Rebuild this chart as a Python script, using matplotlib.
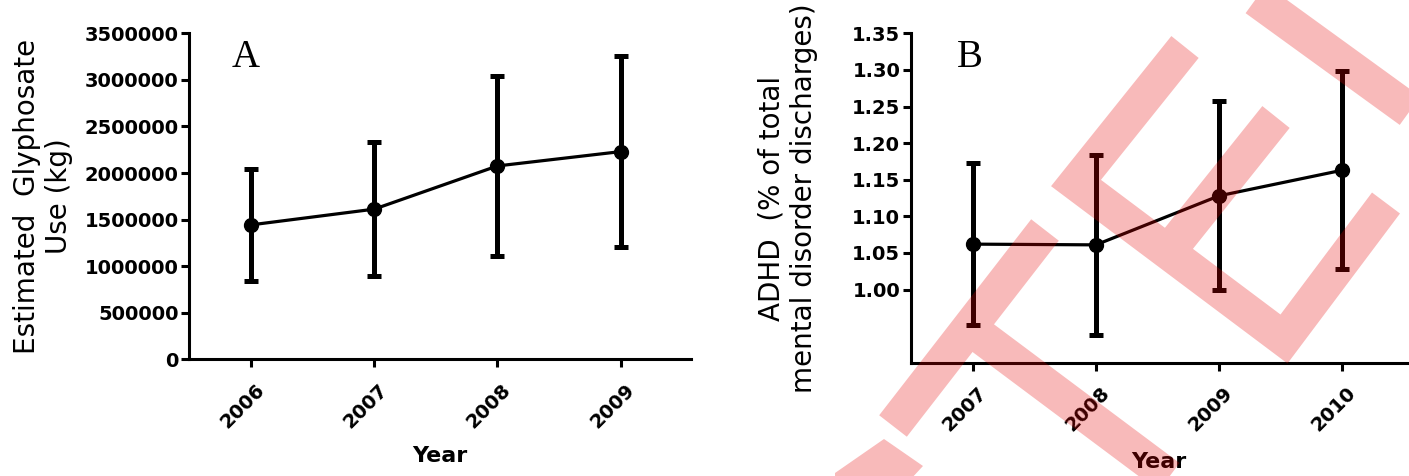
import numpy as np
import matplotlib
matplotlib.use("Agg")
import matplotlib.pyplot as plt
from matplotlib.lines import Line2D
from matplotlib.patches import Polygon
from matplotlib.transforms import ScaledTranslation

#panel A data (glyphosate use)
years_a = [2006, 2007, 2008, 2009]
glyph_mean = [1443000, 1612000, 2076000, 2230000]
glyph_err = [603000, 718000, 970000, 1028000]
yticks_a = [0, 500000, 1000000, 1500000, 2000000, 2500000, 3000000, 3500000]
ytick_labels_a = [str(v) for v in yticks_a]

#panel B data (ADHD discharges)
years_b = [2007, 2008, 2009, 2010]
adhd_mean = [1.062, 1.061, 1.128, 1.163]
adhd_err = [0.111, 0.1225, 0.129, 0.1355]
yticks_b = [1.00, 1.05, 1.10, 1.15, 1.20, 1.25, 1.30, 1.35]
ytick_labels_b = [f"{v:.2f}" for v in yticks_b]

plt.rcParams['font.family'] = ['DejaVu Sans']

W, H = 1409, 476
fig = plt.figure(figsize=(W / 100, H / 100), dpi=100)
axA = fig.add_axes([0.1343, 0.2452, 0.3561, 0.6848])
axB = fig.add_axes([0.6463, 0.2380, 0.3523, 0.6920])


def style(ax, years, yticks, ylabels):
    for s in ['top', 'right']:
        ax.spines[s].set_visible(False)
    for s in ['left', 'bottom']:
        ax.spines[s].set_linewidth(2.2)
    ax.tick_params(axis='both', width=2.2, length=6, direction='out')
    ax.tick_params(axis='y', pad=1.5)
    ax.tick_params(axis='x', pad=9)
    ax.set_yticks(yticks)
    ax.set_yticklabels(ylabels, fontsize=14, fontweight='bold')
    ax.set_xticks(years)
    ax.set_xticklabels([str(y) for y in years], fontsize=14, fontweight='bold',
                       rotation=45, ha='right', va='top', rotation_mode='anchor')
    shift = ScaledTranslation(4 / 100, 0, fig.dpi_scale_trans)
    for lbl in ax.get_xticklabels():
        lbl.set_transform(lbl.get_transform() + shift)
    ax.set_xlabel('Year', fontsize=16, fontweight='bold')


def draw(ax, x, y, err):
    ax.errorbar(x, y, yerr=err, color='black', linewidth=2.3, marker='o',
                markersize=10, elinewidth=3.6, capsize=4.7, capthick=3.6)


#panel A
draw(axA, years_a, glyph_mean, glyph_err)
style(axA, years_a, yticks_a, ytick_labels_a)
axA.set_xlim(2005.5, 2009.57)
axA.set_ylim(0, 3500000)
axA.set_ylabel('Estimated  Glyphosate\nUse (kg)', fontsize=20, va='center')
axA.yaxis.set_label_coords(-0.292, 0.5)
axA.xaxis.set_label_coords(0.5, -0.265)
axA.text(0.085, 0.897, 'A', transform=axA.transAxes, fontsize=28,
         family='Liberation Serif', va='baseline', ha='left')

#panel B
draw(axB, years_b, adhd_mean, adhd_err)
style(axB, years_b, yticks_b, ytick_labels_b)
axB.set_xlim(2006.497, 2010.525)
axB.set_ylim(0.90, 1.35)
axB.set_ylabel('ADHD  (% of total\nmental disorder discharges)', fontsize=20, va='center')
axB.yaxis.set_label_coords(-0.247, 0.5)
axB.xaxis.set_label_coords(0.5, -0.27)
axB.text(0.093, 0.898, 'B', transform=axB.transAxes, fontsize=28,
         family='Liberation Serif', va='baseline', ha='left')

#watermark strokes, in pixel coords of the picture, drawn over the chart
wm = [
    [(1180, -56), (1460, 147)],
    [(1185, 47), (1076, 183), (1284, 339), (1386, 203)],
    [(1276, 117), (1168, 252)],
    [(1045, 230), (893, 426)],
    [(971, 329), (1240, 530)],
]
xs, ys = [], []
for seg in wm:
    for px, py in seg:
        xs.append(px / W)
        ys.append(1 - py / H)
    xs.append(np.nan)
    ys.append(np.nan)
fig.add_artist(Line2D(xs, ys, transform=fig.transFigure, color='#e60000', alpha=0.27,
                      linewidth=25.2, solid_capstyle='butt', solid_joinstyle='miter', zorder=20))
piece = [(835, 473), (884, 439), (923, 466), (910, 480), (835, 480)]
fig.add_artist(Polygon([(px / W, 1 - py / H) for px, py in piece], closed=True,
                       transform=fig.transFigure, facecolor='#e60000', edgecolor='none',
                       alpha=0.27, zorder=20))

fig.savefig('out.png', dpi=100)
